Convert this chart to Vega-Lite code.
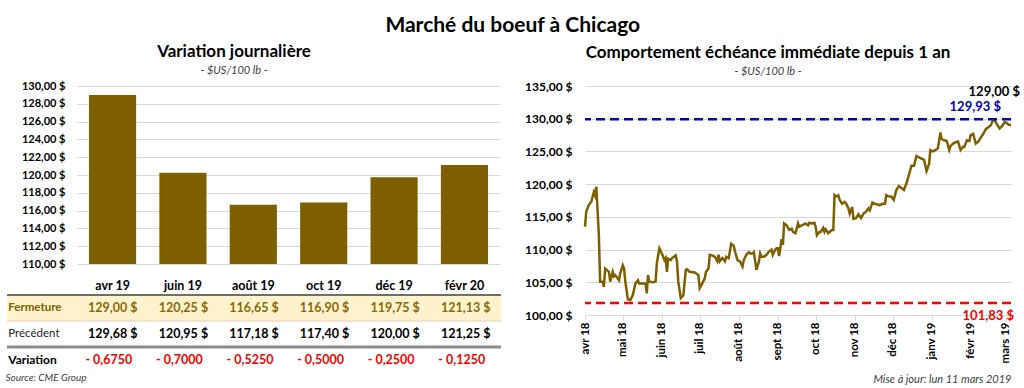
{
  "$schema": "https://vega.github.io/schema/vega-lite/v6.json",
  "background": "#ffffff",
  "padding": {"left": 5, "top": 15, "right": 4, "bottom": 2},
  "title": {"text": "Marché du boeuf à Chicago", "fontSize": 21, "fontWeight": "bold", "font": "Lato", "color": "#000000", "anchor": "middle", "offset": 7},
  "resolve": {"scale": {"x": "independent", "y": "independent", "color": "independent"}},
  "datasets": {
    "contrats": [
      {"contrat": "avr 19", "fermeture": 129.00, "precedent": 129.68, "variation": -0.6750},
      {"contrat": "juin 19", "fermeture": 120.25, "precedent": 120.95, "variation": -0.7000},
      {"contrat": "août 19", "fermeture": 116.65, "precedent": 117.18, "variation": -0.5250},
      {"contrat": "oct 19", "fermeture": 116.90, "precedent": 117.40, "variation": -0.5000},
      {"contrat": "déc 19", "fermeture": 119.75, "precedent": 120.00, "variation": -0.2500},
      {"contrat": "févr 20", "fermeture": 121.13, "precedent": 121.25, "variation": -0.1250}
    ],
    "niveaux": [
      {"niveau": "max", "valeur": 129.93, "date": "2019-03-05"},
      {"niveau": "min", "valeur": 101.83, "date": "2019-03-05"}
    ],
    "serie": [
      {"date": "2018-04-01", "prix": 113.5}, {"date": "2018-04-02", "prix": 115.8}, {"date": "2018-04-04", "prix": 116.8}, {"date": "2018-04-06", "prix": 117.3},
      {"date": "2018-04-08", "prix": 118.8}, {"date": "2018-04-09", "prix": 118.3}, {"date": "2018-04-10", "prix": 119.6}, {"date": "2018-04-12", "prix": 112.2},
      {"date": "2018-04-13", "prix": 105.1}, {"date": "2018-04-15", "prix": 105.1}, {"date": "2018-04-16", "prix": 104.3}, {"date": "2018-04-17", "prix": 107.1},
      {"date": "2018-04-20", "prix": 106.6}, {"date": "2018-04-21", "prix": 105.1}, {"date": "2018-04-23", "prix": 106.6}, {"date": "2018-04-24", "prix": 105.9},
      {"date": "2018-04-25", "prix": 106.1}, {"date": "2018-04-28", "prix": 105.3}, {"date": "2018-04-29", "prix": 106.4}, {"date": "2018-05-01", "prix": 107.6},
      {"date": "2018-05-02", "prix": 107.1}, {"date": "2018-05-03", "prix": 105.1}, {"date": "2018-05-05", "prix": 102.4}, {"date": "2018-05-07", "prix": 102.3},
      {"date": "2018-05-09", "prix": 103.1}, {"date": "2018-05-11", "prix": 104.8}, {"date": "2018-05-13", "prix": 105.3}, {"date": "2018-05-14", "prix": 104.8},
      {"date": "2018-05-17", "prix": 104.8}, {"date": "2018-05-19", "prix": 104.8}, {"date": "2018-05-20", "prix": 103.3}, {"date": "2018-05-21", "prix": 106.1},
      {"date": "2018-05-22", "prix": 105.1}, {"date": "2018-05-25", "prix": 105.0}, {"date": "2018-05-27", "prix": 105.1}, {"date": "2018-05-28", "prix": 107.9},
      {"date": "2018-05-30", "prix": 110.2}, {"date": "2018-06-01", "prix": 109.4}, {"date": "2018-06-03", "prix": 108.4}, {"date": "2018-06-04", "prix": 108.7},
      {"date": "2018-06-05", "prix": 106.6}, {"date": "2018-06-06", "prix": 108.6}, {"date": "2018-06-08", "prix": 108.4}, {"date": "2018-06-09", "prix": 108.7},
      {"date": "2018-06-12", "prix": 109.1}, {"date": "2018-06-13", "prix": 108.2}, {"date": "2018-06-14", "prix": 105.1}, {"date": "2018-06-16", "prix": 102.6},
      {"date": "2018-06-18", "prix": 103.0}, {"date": "2018-06-20", "prix": 106.9}, {"date": "2018-06-21", "prix": 107.0}, {"date": "2018-06-23", "prix": 106.6},
      {"date": "2018-06-27", "prix": 106.5}, {"date": "2018-06-30", "prix": 106.1}, {"date": "2018-07-01", "prix": 104.1}, {"date": "2018-07-03", "prix": 104.8},
      {"date": "2018-07-05", "prix": 105.6}, {"date": "2018-07-06", "prix": 106.6}, {"date": "2018-07-08", "prix": 107.1}, {"date": "2018-07-09", "prix": 109.2},
      {"date": "2018-07-11", "prix": 109.1}, {"date": "2018-07-13", "prix": 108.9}, {"date": "2018-07-15", "prix": 108.2}, {"date": "2018-07-16", "prix": 109.2},
      {"date": "2018-07-17", "prix": 108.2}, {"date": "2018-07-19", "prix": 108.7}, {"date": "2018-07-21", "prix": 108.2}, {"date": "2018-07-22", "prix": 108.9},
      {"date": "2018-07-24", "prix": 108.7}, {"date": "2018-07-26", "prix": 110.9}, {"date": "2018-07-28", "prix": 110.6}, {"date": "2018-07-29", "prix": 109.7},
      {"date": "2018-07-31", "prix": 108.4}, {"date": "2018-08-02", "prix": 108.2}, {"date": "2018-08-04", "prix": 107.4}, {"date": "2018-08-05", "prix": 108.4},
      {"date": "2018-08-07", "prix": 109.2}, {"date": "2018-08-09", "prix": 109.6}, {"date": "2018-08-10", "prix": 109.4}, {"date": "2018-08-12", "prix": 109.4},
      {"date": "2018-08-13", "prix": 109.6}, {"date": "2018-08-15", "prix": 106.9}, {"date": "2018-08-17", "prix": 108.2}, {"date": "2018-08-18", "prix": 109.4},
      {"date": "2018-08-19", "prix": 108.9}, {"date": "2018-08-21", "prix": 108.9}, {"date": "2018-08-23", "prix": 109.2}, {"date": "2018-08-25", "prix": 109.7},
      {"date": "2018-08-27", "prix": 110.0}, {"date": "2018-08-28", "prix": 109.2}, {"date": "2018-08-30", "prix": 110.0}, {"date": "2018-08-31", "prix": 110.2},
      {"date": "2018-09-01", "prix": 110.2}, {"date": "2018-09-02", "prix": 109.0}, {"date": "2018-09-04", "prix": 111.6}, {"date": "2018-09-05", "prix": 110.7},
      {"date": "2018-09-06", "prix": 114.0}, {"date": "2018-09-08", "prix": 113.7}, {"date": "2018-09-10", "prix": 113.0}, {"date": "2018-09-12", "prix": 113.2},
      {"date": "2018-09-13", "prix": 112.7}, {"date": "2018-09-15", "prix": 112.5}, {"date": "2018-09-17", "prix": 114.0}, {"date": "2018-09-18", "prix": 113.5},
      {"date": "2018-09-20", "prix": 113.7}, {"date": "2018-09-22", "prix": 113.9}, {"date": "2018-09-23", "prix": 114.0}, {"date": "2018-09-25", "prix": 113.7},
      {"date": "2018-09-26", "prix": 114.1}, {"date": "2018-09-28", "prix": 114.0}, {"date": "2018-09-30", "prix": 114.1}, {"date": "2018-10-01", "prix": 113.5},
      {"date": "2018-10-02", "prix": 112.2}, {"date": "2018-10-04", "prix": 112.7}, {"date": "2018-10-05", "prix": 112.7}, {"date": "2018-10-07", "prix": 113.3},
      {"date": "2018-10-08", "prix": 112.7}, {"date": "2018-10-09", "prix": 113.1}, {"date": "2018-10-11", "prix": 112.5}, {"date": "2018-10-12", "prix": 112.7},
      {"date": "2018-10-14", "prix": 113.0}, {"date": "2018-10-15", "prix": 113.0}, {"date": "2018-10-16", "prix": 118.3}, {"date": "2018-10-17", "prix": 118.1},
      {"date": "2018-10-19", "prix": 118.3}, {"date": "2018-10-20", "prix": 117.6}, {"date": "2018-10-22", "prix": 117.0}, {"date": "2018-10-24", "prix": 117.3},
      {"date": "2018-10-25", "prix": 117.1}, {"date": "2018-10-27", "prix": 116.3}, {"date": "2018-10-28", "prix": 115.5}, {"date": "2018-10-30", "prix": 116.5},
      {"date": "2018-10-31", "prix": 114.7}, {"date": "2018-11-02", "prix": 114.8}, {"date": "2018-11-04", "prix": 115.4}, {"date": "2018-11-06", "prix": 114.8},
      {"date": "2018-11-08", "prix": 115.5}, {"date": "2018-11-10", "prix": 115.8}, {"date": "2018-11-12", "prix": 116.3}, {"date": "2018-11-13", "prix": 116.0},
      {"date": "2018-11-15", "prix": 117.2}, {"date": "2018-11-17", "prix": 117.0}, {"date": "2018-11-19", "prix": 116.9}, {"date": "2018-11-21", "prix": 116.8},
      {"date": "2018-11-23", "prix": 117.0}, {"date": "2018-11-25", "prix": 117.0}, {"date": "2018-11-26", "prix": 118.3}, {"date": "2018-11-28", "prix": 118.1},
      {"date": "2018-11-30", "prix": 118.1}, {"date": "2018-12-02", "prix": 117.6}, {"date": "2018-12-04", "prix": 119.1}, {"date": "2018-12-06", "prix": 119.7},
      {"date": "2018-12-08", "prix": 119.4}, {"date": "2018-12-10", "prix": 119.1}, {"date": "2018-12-12", "prix": 120.1}, {"date": "2018-12-14", "prix": 121.4},
      {"date": "2018-12-16", "prix": 122.8}, {"date": "2018-12-18", "prix": 122.8}, {"date": "2018-12-20", "prix": 124.3}, {"date": "2018-12-22", "prix": 124.1},
      {"date": "2018-12-24", "prix": 123.9}, {"date": "2018-12-26", "prix": 123.7}, {"date": "2018-12-28", "prix": 122.0}, {"date": "2018-12-30", "prix": 123.1},
      {"date": "2018-12-31", "prix": 125.2}, {"date": "2019-01-02", "prix": 125.0}, {"date": "2019-01-04", "prix": 125.2}, {"date": "2019-01-06", "prix": 125.5},
      {"date": "2019-01-08", "prix": 127.9}, {"date": "2019-01-09", "prix": 126.9}, {"date": "2019-01-11", "prix": 126.7}, {"date": "2019-01-13", "prix": 126.6},
      {"date": "2019-01-15", "prix": 125.2}, {"date": "2019-01-16", "prix": 125.8}, {"date": "2019-01-18", "prix": 126.2}, {"date": "2019-01-20", "prix": 126.4},
      {"date": "2019-01-22", "prix": 126.5}, {"date": "2019-01-24", "prix": 125.2}, {"date": "2019-01-26", "prix": 125.7}, {"date": "2019-01-27", "prix": 125.7},
      {"date": "2019-01-29", "prix": 126.7}, {"date": "2019-01-31", "prix": 126.6}, {"date": "2019-02-01", "prix": 127.5}, {"date": "2019-02-03", "prix": 127.7},
      {"date": "2019-02-05", "prix": 126.2}, {"date": "2019-02-07", "prix": 126.5}, {"date": "2019-02-09", "prix": 127.1}, {"date": "2019-02-11", "prix": 127.7},
      {"date": "2019-02-13", "prix": 128.4}, {"date": "2019-02-15", "prix": 128.7}, {"date": "2019-02-17", "prix": 129.0}, {"date": "2019-02-19", "prix": 129.9},
      {"date": "2019-02-20", "prix": 129.8}, {"date": "2019-02-22", "prix": 129.1}, {"date": "2019-02-24", "prix": 128.5}, {"date": "2019-02-26", "prix": 128.9},
      {"date": "2019-02-28", "prix": 129.5}, {"date": "2019-03-02", "prix": 129.3}, {"date": "2019-03-03", "prix": 129.1}, {"date": "2019-03-05", "prix": 129.0}
    ]
  },
  "hconcat": [
    {
      "spacing": 2,
      "resolve": {"scale": {"x": "independent", "y": "independent", "color": "independent"}},
      "vconcat": [
        {
          "width": 494,
          "height": 178,
          "title": {"text": "Variation journalière", "subtitle": "- $US/100 lb -", "fontSize": 17, "fontWeight": "bold", "color": "#000000", "subtitleFontSize": 11, "subtitleFontStyle": "italic", "subtitleColor": "#404040", "subtitlePadding": 4, "anchor": "middle", "dx": -20, "offset": 3},
          "data": {"name": "contrats"},
          "mark": {"type": "bar", "color": "#7f6000"},
          "encoding": {
            "x": {"field": "contrat", "type": "nominal", "sort": null,
              "scale": {"range": [70, 493], "paddingInner": 0.33, "paddingOuter": 0.17},
              "axis": {"title": null, "ticks": false, "domain": false, "labelAngle": 0, "labelFontSize": 12.5, "labelFontWeight": "bold", "labelColor": "#000000", "labelPadding": 15}},
            "y": {"field": "fermeture", "type": "quantitative",
              "scale": {"domain": [110, 130], "zero": false, "nice": false},
              "axis": {"title": null, "offset": -70, "values": [110, 112, 114, 116, 118, 120, 122, 124, 126, 128, 130], "format": "$.2f", "labelFontSize": 11, "labelFontWeight": "bold", "labelColor": "#000000", "ticks": false, "domain": false, "gridColor": "#d9d9d9", "labelPadding": 12}},
            "y2": {"datum": 110}
          }
        },
        {
          "width": 494,
          "height": 78,
          "title": {"text": "Source: CME Group", "orient": "bottom", "anchor": "start", "fontSize": 10, "fontStyle": "italic", "fontWeight": "normal", "color": "#404040", "offset": 0},
          "data": {"name": "contrats"},
          "encoding": {
            "x": {"field": "contrat", "type": "nominal", "scale": {"domain": [" ", "avr 19", "juin 19", "août 19", "oct 19", "déc 19", "févr 20"], "paddingInner": 0, "paddingOuter": 0}, "axis": null},
            "y": {"field": "ligne", "type": "nominal", "scale": {"domain": ["fermeture", "precedent", "variation"], "paddingInner": 0, "paddingOuter": 0}, "axis": null}
          },
          "layer": [
            {
              "data": {"values": [{"ligne": "fermeture"}]},
              "mark": {"type": "rect", "color": "#fff2cc"},
              "encoding": {"x": null, "y": {"field": "ligne", "type": "nominal"}}
            },
            {
              "data": {"values": [{"ligne": "fermeture"}]},
              "mark": {"type": "rule", "color": "#404040", "strokeWidth": 1.5},
              "encoding": {"x": null, "y": {"field": "ligne", "type": "nominal", "bandPosition": 0}}
            },
            {
              "data": {"values": [{"ligne": "precedent"}]},
              "mark": {"type": "rule", "color": "#e0d6b8", "strokeWidth": 1},
              "encoding": {"x": null, "y": {"field": "ligne", "type": "nominal", "bandPosition": 0}}
            },
            {
              "data": {"values": [{"ligne": "variation"}]},
              "mark": {"type": "rule", "color": "#8c8c8c", "strokeWidth": 3},
              "encoding": {"x": null, "y": {"field": "ligne", "type": "nominal", "bandPosition": 0}}
            },
            {
              "data": {"values": [{"ligne": "fermeture", "nom": "Fermeture"}]},
              "mark": {"type": "text", "align": "left", "dx": -34, "fontSize": 11.5, "fontWeight": "bold", "color": "#7f6000"},
              "encoding": {"x": {"datum": " ", "type": "nominal"}, "text": {"field": "nom"}}
            },
            {
              "data": {"values": [{"ligne": "precedent", "nom": "Précédent"}]},
              "mark": {"type": "text", "align": "left", "dx": -34, "fontSize": 11.5, "fontWeight": "normal", "color": "#262626"},
              "encoding": {"x": {"datum": " ", "type": "nominal"}, "text": {"field": "nom"}}
            },
            {
              "data": {"values": [{"ligne": "variation", "nom": "Variation"}]},
              "mark": {"type": "text", "align": "left", "dx": -34, "fontSize": 12, "fontWeight": "bold", "color": "#000000"},
              "encoding": {"x": {"datum": " ", "type": "nominal"}, "text": {"field": "nom"}}
            },
            {
              "transform": [{"fold": ["fermeture", "precedent"], "as": ["ligne", "valeur"]}],
              "mark": {"type": "text", "fontSize": 12.5, "fontWeight": "bold"},
              "encoding": {
                "text": {"field": "valeur", "type": "quantitative", "format": "$.2f"},
                "color": {"field": "ligne", "type": "nominal", "scale": {"domain": ["fermeture", "precedent"], "range": ["#8a6a08", "#000000"]}, "legend": null}
              }
            },
            {
              "mark": {"type": "text", "fontSize": 12.5, "fontWeight": "bold", "color": "#ff0000", "dx": -4},
              "encoding": {
                "y": {"datum": "variation", "type": "nominal"},
                "text": {"field": "variation", "type": "quantitative", "format": ".4f"}
              }
            }
          ]
        }
      ]
    },
    {
      "width": 426,
      "height": 229,
      "title": {"text": "Comportement échéance immédiate depuis 1 an", "subtitle": "- $US/100 lb -", "fontSize": 17, "fontWeight": "bold", "color": "#000000", "subtitleFontSize": 11, "subtitleFontStyle": "italic", "subtitleColor": "#404040", "subtitlePadding": 4, "anchor": "middle", "dx": -30, "offset": 2},
      "encoding": {
        "x": {"field": "date", "type": "temporal",
          "scale": {"type": "utc", "domain": [{"year": 2018, "month": 4, "date": 1, "utc": true}, {"year": 2019, "month": 3, "date": 5, "utc": true}]},
          "axis": {
            "values": [
              {"year": 2018, "month": 4, "date": 1, "utc": true}, {"year": 2018, "month": 5, "date": 1, "utc": true}, {"year": 2018, "month": 6, "date": 1, "utc": true},
              {"year": 2018, "month": 7, "date": 1, "utc": true}, {"year": 2018, "month": 8, "date": 1, "utc": true}, {"year": 2018, "month": 9, "date": 1, "utc": true},
              {"year": 2018, "month": 10, "date": 1, "utc": true}, {"year": 2018, "month": 11, "date": 1, "utc": true}, {"year": 2018, "month": 12, "date": 1, "utc": true},
              {"year": 2019, "month": 1, "date": 1, "utc": true}, {"year": 2019, "month": 2, "date": 1, "utc": true}, {"year": 2019, "month": 3, "date": 1, "utc": true}
            ],
            "labelExpr": "['janv','févr','mars','avr','mai','juin','juil','août','sept','oct','nov','déc'][utcmonth(datum.value)] + ' ' + utcFormat(datum.value, '%y')",
            "labelAngle": 270, "labelFontSize": 11.5, "labelFontWeight": "bold", "labelColor": "#000000", "labelPadding": 2,
            "grid": false, "domainColor": "#d9d9d9", "tickColor": "#d9d9d9", "tickSize": 5,
            "title": "Mise à jour: lun 11 mars 2019", "titleAnchor": "end", "titleFontSize": 11, "titleFontStyle": "italic", "titleFontWeight": "normal", "titleColor": "#404040", "titlePadding": 11
          }
        },
        "y": {"type": "quantitative",
          "scale": {"domain": [100, 135], "zero": false, "nice": false},
          "axis": {"title": null, "values": [100, 105, 110, 115, 120, 125, 130, 135], "format": "$.2f", "labelFontSize": 12, "labelFontWeight": "bold", "labelColor": "#000000", "ticks": false, "domain": false, "gridColor": "#d9d9d9", "labelPadding": 13, "minExtent": 60}}
      },
      "layer": [
        {
          "data": {"name": "serie"},
          "mark": {"type": "line", "color": "#7f6000", "strokeWidth": 2.5},
          "encoding": {"y": {"field": "prix", "type": "quantitative"}}
        },
        {
          "data": {"name": "niveaux"},
          "mark": {"type": "rule", "strokeDash": [9, 5], "strokeWidth": 2.5},
          "encoding": {
            "x": null,
            "y": {"field": "valeur", "type": "quantitative"},
            "color": {"field": "niveau", "type": "nominal", "scale": {"domain": ["max", "min"], "range": ["#0000c0", "#ff0000"]}, "legend": null}
          }
        },
        {
          "data": {"name": "niveaux"},
          "transform": [{"filter": "datum.niveau == 'max'"}],
          "mark": {"type": "text", "align": "right", "baseline": "middle", "dx": -10, "dy": -12, "fontSize": 13, "fontWeight": "bold", "color": "#0000c0"},
          "encoding": {
            "y": {"field": "valeur", "type": "quantitative"},
            "text": {"field": "valeur", "type": "quantitative", "format": "$.2f"}
          }
        },
        {
          "data": {"name": "niveaux"},
          "transform": [{"filter": "datum.niveau == 'min'"}],
          "mark": {"type": "text", "align": "right", "baseline": "middle", "dx": 3, "dy": 13, "fontSize": 13, "fontWeight": "bold", "color": "#ff0000"},
          "encoding": {
            "y": {"field": "valeur", "type": "quantitative"},
            "text": {"field": "valeur", "type": "quantitative", "format": "$.2f"}
          }
        },
        {
          "data": {"name": "serie"},
          "transform": [{"filter": {"field": "date", "equal": {"year": 2019, "month": 3, "date": 5, "utc": true}}}],
          "mark": {"type": "text", "align": "right", "baseline": "middle", "dx": 9, "dy": -33, "fontSize": 13, "fontWeight": "bold", "color": "#000000"},
          "encoding": {
            "y": {"field": "prix", "type": "quantitative"},
            "text": {"field": "prix", "type": "quantitative", "format": "$.2f"}
          }
        }
      ]
    }
  ],
  "spacing": 21,
  "config": {
    "font": "Lato",
    "view": {"stroke": null},
    "axis": {"labelFont": "Lato", "titleFont": "Lato"},
    "title": {"font": "Lato", "subtitleFont": "Lato"},
    "text": {"font": "Lato"},
    "locale": {"number": {"decimal": ",", "thousands": " ", "grouping": [3], "currency": ["", " $"], "minus": "- "}}
  }
}
